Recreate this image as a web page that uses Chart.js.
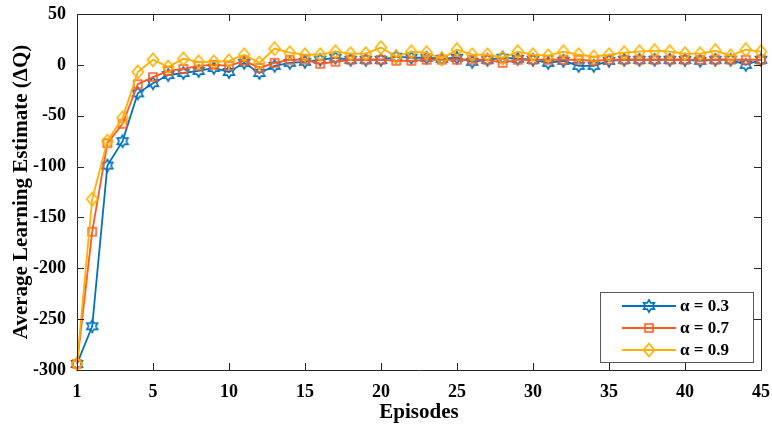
<!DOCTYPE html>
<html>
<head>
<meta charset="utf-8">
<script src="https://cdn.jsdelivr.net/npm/chart.js@4.4.1/dist/chart.umd.min.js"></script>
<style>
  html, body { margin: 0; padding: 0; background: #ffffff; }
  #wrap { width: 772px; height: 430px; position: relative; }
</style>
</head>
<body>
<div id="wrap"><canvas id="c" width="772" height="430"></canvas></div>
<script>
// ---- Data ----
const episodes = [0,1,2,3,4,5,6,7,8,9,10,11,12,13,14,15,16,17,18,19,20,21,22,23,24,25,26,27,28,29,30,31,32,33,34,35,36,37,38,39,40,41,42,43,44,45];
const xTickValues = [0,5,10,15,20,25,30,35,40,45];
const xTickLabels = ['1','5','10','15','20','25','30','35','40','45'];
const yTickValues = [50,0,-50,-100,-150,-200,-250,-300];

const alpha03 = [-294,-257,-99,-75,-28,-18,-10,-8,-6,-3,-7,2,-8,-1,2,3,5,7,5,5,5,8,7,7,6,7,3,5,7,6,5,2,4,-1,-1,4,5,5,5,5,5,4,5,5,0,5];
const alpha07 = [-294,-164,-77,-58,-19,-12,-6,-4,-1,0,-1,4,-3,2,5,5,1,3,5,5,5,4,4,5,5,5,5,5,2,5,5,5,5,5,4,5,5,5,5,5,5,5,5,5,5,5];
const alpha09 = [-294,-132,-75,-52,-7,5,-2,6,3,3,4,10,2,16,12,10,10,13,11,11,17,8,13,12,6,15,10,10,7,13,10,9,13,10,8,10,12,13,14,13,11,11,14,9,15,13];

const seriesLabels = ['\u03B1 = 0.3', '\u03B1 = 0.7', '\u03B1 = 0.9'];
const seriesColors = ['#0072BD', '#FF5A1F', '#FFB000'];

const xTitle = 'Episodes';
const yTitle = 'Average Learning Estimate (\u0394Q)';

// ---- Marker images ----
function makeMarker(kind, color) {
  const s = 18, c = s / 2;
  const cv = document.createElement('canvas');
  cv.width = s; cv.height = s;
  const g = cv.getContext('2d');
  g.strokeStyle = color;
  g.lineWidth = 1.6;
  g.beginPath();
  if (kind === 'hexagram') {
    const R = 6.2, r = R / Math.sqrt(3);
    for (let k = 0; k < 12; k++) {
      const a = -Math.PI / 2 + k * Math.PI / 6;
      const rr = (k % 2 === 0) ? R : r;
      const px = c + rr * Math.cos(a), py = c + rr * Math.sin(a);
      if (k === 0) g.moveTo(px, py); else g.lineTo(px, py);
    }
    g.closePath();
  } else if (kind === 'square') {
    g.rect(c - 4, c - 4, 8, 8);
  } else if (kind === 'diamond') {
    g.moveTo(c, c - 6.5);
    g.lineTo(c + 5.5, c);
    g.lineTo(c, c + 6.5);
    g.lineTo(c - 5.5, c);
    g.closePath();
  }
  g.stroke();
  return cv;
}
const markers = [
  makeMarker('hexagram', seriesColors[0]),
  makeMarker('square', seriesColors[1]),
  makeMarker('diamond', seriesColors[2])
];

function toPoints(vals) { return episodes.map((e, i) => ({ x: e, y: vals[i] })); }

const FONT = "'Liberation Serif', 'Times New Roman', serif";

// ---- Frame, inward ticks and legend ----
const framePlugin = {
  id: 'frame',
  afterDraw(chart) {
    const ctx = chart.ctx;
    const a = chart.chartArea;
    const xs = chart.scales.x, ys = chart.scales.y;
    const tl = 7;
    ctx.save();
    ctx.strokeStyle = '#262626';
    ctx.lineWidth = 1;
    ctx.beginPath();
    ctx.rect(a.left + 0.5, a.top + 0.5, a.right - a.left, a.bottom - a.top);
    ctx.stroke();
    ctx.beginPath();
    xTickValues.forEach(v => {
      const px = Math.round(xs.getPixelForValue(v)) + 0.5;
      ctx.moveTo(px, a.bottom); ctx.lineTo(px, a.bottom - tl);
      ctx.moveTo(px, a.top); ctx.lineTo(px, a.top + tl);
    });
    yTickValues.forEach(v => {
      const py = Math.round(ys.getPixelForValue(v)) + 0.5;
      ctx.moveTo(a.left, py); ctx.lineTo(a.left + tl, py);
      ctx.moveTo(a.right, py); ctx.lineTo(a.right - tl, py);
    });
    ctx.stroke();

    // legend
    const bx = a.right - 161, by = a.bottom - 78, bw = 153, bh = 70;
    ctx.fillStyle = '#ffffff';
    ctx.fillRect(bx, by, bw, bh);
    ctx.strokeStyle = '#595959';
    ctx.lineWidth = 1;
    ctx.strokeRect(bx + 0.5, by + 0.5, bw, bh);
    chart.data.datasets.forEach((ds, i) => {
      const yy = by + 14 + i * 22;
      ctx.strokeStyle = ds.borderColor;
      ctx.lineWidth = 1.8;
      ctx.beginPath();
      ctx.moveTo(bx + 22, yy); ctx.lineTo(bx + 76, yy);
      ctx.stroke();
      const m = markers[i];
      ctx.drawImage(m, bx + 49 - m.width / 2, yy - m.height / 2);
      ctx.fillStyle = '#000000';
      ctx.font = 'bold 17px ' + FONT;
      ctx.textBaseline = 'middle';
      ctx.textAlign = 'left';
      ctx.fillText(ds.label, bx + 80, yy + 1);
    });
    ctx.restore();
  }
};

const datasets = [alpha03, alpha07, alpha09].map((vals, i) => ({
  label: seriesLabels[i],
  data: toPoints(vals),
  borderColor: seriesColors[i],
  backgroundColor: seriesColors[i],
  borderWidth: 1.8,
  pointStyle: markers[i],
  pointRadius: 6,
  pointHoverRadius: 6,
  tension: 0,
  clip: false,
  order: 2 - i
}));

new Chart(document.getElementById('c'), {
  type: 'line',
  data: { datasets },
  options: {
    responsive: false,
    animation: false,
    events: [],
    layout: { padding: { top: 14, right: 11, left: 0, bottom: 0 } },
    plugins: { legend: { display: false }, tooltip: { enabled: false } },
    scales: {
      x: {
        type: 'linear',
        min: 0, max: 45,
        afterBuildTicks(scale) { scale.ticks = xTickValues.map(v => ({ value: v })); },
        afterFit(scale) { scale.height = 60; scale.paddingLeft = 0; scale.paddingRight = 0; },
        grid: { display: false, drawTicks: false },
        border: { display: false },
        ticks: {
          padding: 12,
          color: '#000000',
          font: { family: FONT, size: 18, weight: 'bold' },
          maxRotation: 0,
          autoSkip: false,
          callback: (v) => xTickLabels[xTickValues.indexOf(v)]
        },
        title: {
          display: true, text: xTitle, color: '#000000',
          font: { family: FONT, size: 21, weight: 'bold' },
          padding: { top: 0, bottom: 5 }
        }
      },
      y: {
        type: 'linear',
        min: -300, max: 50,
        afterBuildTicks(scale) { scale.ticks = yTickValues.map(v => ({ value: v })); },
        afterFit(scale) { scale.width = 77; scale.paddingTop = 0; scale.paddingBottom = 0; },
        grid: { display: false, drawTicks: false },
        border: { display: false },
        ticks: {
          padding: 11,
          color: '#000000',
          font: { family: FONT, size: 18, weight: 'bold' },
          callback: (v) => String(v)
        },
        title: {
          display: true, text: yTitle, color: '#000000',
          font: { family: FONT, size: 21, weight: 'bold' },
          padding: { top: 9, bottom: 0 }
        }
      }
    }
  },
  plugins: [framePlugin]
});
</script>
</body>
</html>
